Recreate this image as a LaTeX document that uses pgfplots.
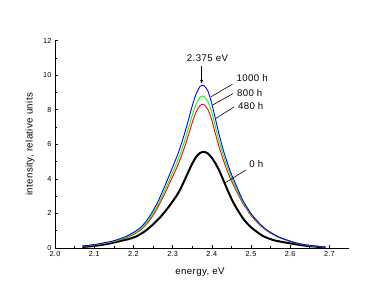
\documentclass[border=0pt]{standalone}
\usepackage{fontspec}
\setmainfont{Liberation Sans}[LetterSpace=4]
\usepackage{pgfplots}
\pgfplotsset{compat=1.18}
\usetikzlibrary{arrows.meta}
\begin{document}
\begin{tikzpicture}[x=1bp,y=1bp]
\useasboundingbox (0,0) rectangle (384,293);
\begin{axis}[
  at={(55bp,45bp)}, anchor=south west,
  scale only axis, width=294bp, height=207.3bp,
  xmin=2.0, xmax=2.75, ymin=0, ymax=12,
  axis x line=bottom, axis y line=left,
  axis line style={-, line width=0.8pt},
  xtick={2.0,2.1,2.2,2.3,2.4,2.5,2.6,2.7},
  ytick={0,2,4,6,8,10,12},
  minor x tick num=1, minor y tick num=1,
  tick align=inside,
  major tick length=3bp, minor tick length=2bp,
  tick style={black, line width=0.6pt},
  /pgf/number format/assume math mode=true,
  x tick label style={font=\fontsize{7.3}{8}\selectfont, /pgf/number format/.cd, fixed, fixed zerofill, precision=1},
  y tick label style={font=\fontsize{7.3}{8}\selectfont},
  xlabel={energy, eV},
  ylabel={intensity, relative units},
  every axis x label/.style={at={(axis description cs:0.493,-0.119)}, anchor=center, font=\fontsize{9.7}{11}\selectfont},
  every axis y label/.style={at={(axis description cs:-0.085,0.5)}, rotate=90, anchor=center, font=\fontsize{9.7}{11}\selectfont},
  clip=false,
]
\addplot[black, line width=2pt, smooth, tension=0.4] coordinates {
(2.07,0.06) (2.10,0.12) (2.13,0.22) (2.16,0.37) (2.19,0.53) (2.21,0.70) (2.23,0.98) (2.25,1.36) (2.27,1.82) (2.29,2.38) (2.31,3.02) (2.32,3.42) (2.33,3.90) (2.34,4.40) (2.35,4.88) (2.36,5.27) (2.37,5.50) (2.38,5.57) (2.39,5.47) (2.40,5.22) (2.41,4.87) (2.42,4.43) (2.43,3.90) (2.44,3.36) (2.45,2.86) (2.46,2.42) (2.48,1.70) (2.50,1.20) (2.53,0.70) (2.56,0.44) (2.60,0.27) (2.64,0.13) (2.69,0.03)
};
\addplot[red, line width=0.9pt, smooth, tension=0.4] coordinates {
(2.07,0.10) (2.10,0.17) (2.12,0.24) (2.15,0.36) (2.18,0.57) (2.20,0.78) (2.22,1.07) (2.24,1.56) (2.26,2.25) (2.28,3.15) (2.30,4.13) (2.31,4.62) (2.32,5.17) (2.33,5.80) (2.34,6.50) (2.35,7.25) (2.36,7.88) (2.37,8.25) (2.375,8.32) (2.38,8.30) (2.39,8.02) (2.40,7.40) (2.41,6.55) (2.42,5.75) (2.43,5.05) (2.44,4.43) (2.45,3.90) (2.46,3.42) (2.47,2.98) (2.48,2.55) (2.50,1.88) (2.52,1.38) (2.54,1.00) (2.57,0.62) (2.60,0.38) (2.62,0.25) (2.65,0.14) (2.69,0.05)
};
\addplot[green, line width=0.9pt, smooth, tension=0.4] coordinates {
(2.07,0.11) (2.10,0.18) (2.12,0.25) (2.15,0.38) (2.18,0.60) (2.20,0.82) (2.22,1.13) (2.24,1.65) (2.26,2.38) (2.28,3.33) (2.30,4.37) (2.31,4.89) (2.32,5.47) (2.33,6.14) (2.34,6.88) (2.35,7.67) (2.36,8.33) (2.37,8.72) (2.375,8.79) (2.38,8.77) (2.39,8.48) (2.40,7.85) (2.41,6.95) (2.42,6.08) (2.43,5.33) (2.44,4.67) (2.45,4.10) (2.46,3.60) (2.47,3.10) (2.48,2.63) (2.50,1.94) (2.52,1.43) (2.54,1.03) (2.57,0.64) (2.60,0.39) (2.62,0.26) (2.65,0.14) (2.69,0.05)
};
\addplot[blue, line width=0.9pt, smooth, tension=0.4] coordinates {
(2.07,0.12) (2.10,0.20) (2.12,0.28) (2.15,0.42) (2.18,0.66) (2.20,0.90) (2.22,1.22) (2.24,1.78) (2.26,2.56) (2.28,3.58) (2.30,4.68) (2.31,5.24) (2.32,5.86) (2.33,6.58) (2.34,7.38) (2.35,8.22) (2.36,8.92) (2.37,9.35) (2.375,9.42) (2.38,9.40) (2.39,9.10) (2.40,8.35) (2.41,7.40) (2.42,6.45) (2.43,5.62) (2.44,4.90) (2.45,4.28) (2.46,3.75) (2.47,3.22) (2.48,2.72) (2.50,2.00) (2.52,1.46) (2.54,1.05) (2.57,0.65) (2.60,0.40) (2.62,0.27) (2.65,0.15) (2.69,0.05)
};
\draw[line width=0.6pt] (axis cs:2.4525,9.48) -- (axis cs:2.3977,8.75);
\draw[line width=0.6pt] (axis cs:2.4543,8.94) -- (axis cs:2.4018,8.27);
\draw[line width=0.6pt] (axis cs:2.4569,8.17) -- (axis cs:2.4104,7.50);
\draw[line width=0.6pt] (axis cs:2.4865,4.51) -- (axis cs:2.434,3.77);
\node[font=\fontsize{9.7}{11}\selectfont] at (axis cs:2.503,9.83) {1000 h};
\node[font=\fontsize{9.7}{11}\selectfont] at (axis cs:2.4967,8.98) {800 h};
\node[font=\fontsize{9.7}{11}\selectfont] at (axis cs:2.4992,8.23) {480 h};
\node[font=\fontsize{9.7}{11}\selectfont] at (axis cs:2.5135,4.86) {0 h};
\node[font=\fontsize{9.7}{11}\selectfont] at (axis cs:2.389,10.98) {2.375 eV};
\draw[line width=0.7pt, -{Latex[length=4pt,width=3pt]}] (axis cs:2.3739,10.54) -- (axis cs:2.3739,9.5);
\end{axis}
\end{tikzpicture}
\end{document}
